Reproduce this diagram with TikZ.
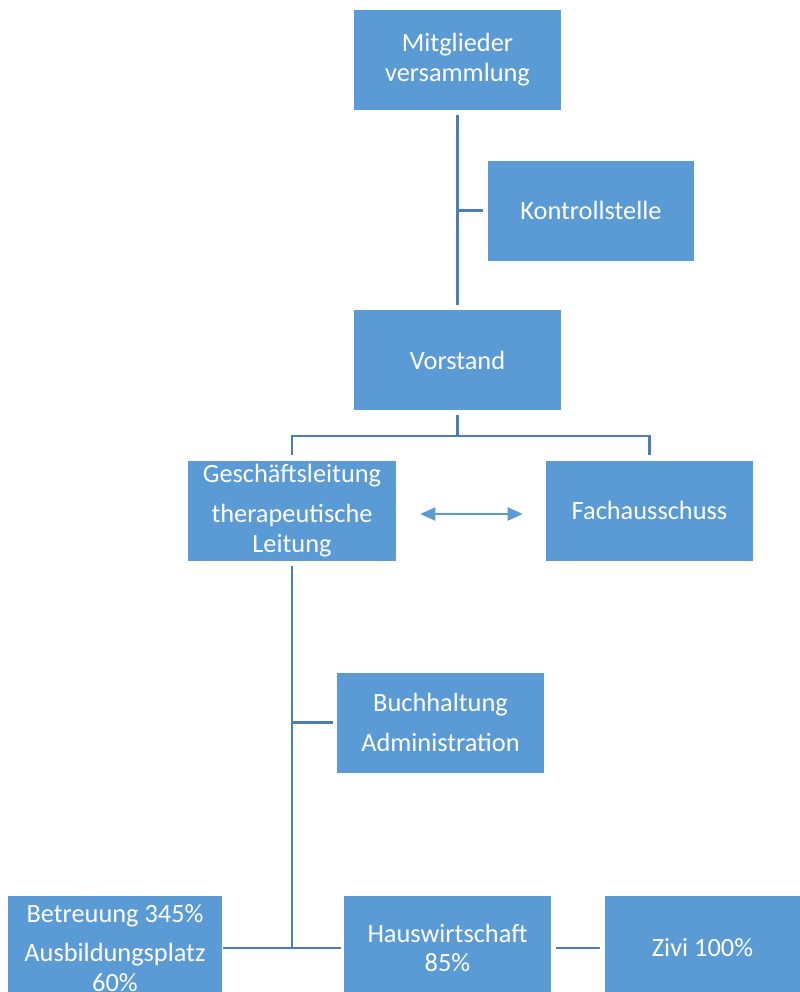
\documentclass[tikz,border=0pt]{standalone}
\usepackage{fontspec}
\setmainfont{Carlito}
\usetikzlibrary{arrows.meta}
\definecolor{boxblue}{HTML}{5B9BD5}
\definecolor{lineblue}{HTML}{4A7EBB}
\begin{document}
\begin{tikzpicture}[x=0.02cm, y=-0.02cm,
		box/.style={rectangle, fill=boxblue, text=white, align=center, inner sep=0pt,
			minimum width=4.14cm, minimum height=2cm, font=\fontsize{15}{17}\selectfont},
		conn/.style={lineblue, line width=1.6pt},
		dblarrow/.style={boxblue, line width=1.2pt, {Triangle[length=0.3cm,width=0.26cm]}-{Triangle[length=0.3cm,width=0.26cm]}}]
		\useasboundingbox (0,0) rectangle (800,992);
		\clip (0,0) rectangle (800,992);
		
		% Boxes
		\node[box] (mitglieder) at (457.5,60) {Mitglieder\\versammlung};
		\node[box, minimum width=4.12cm] (kontroll) at (591,210.5) {Kontrollstelle};
		\node[box] (vorstand) at (457.5,360) {Vorstand};
		\node[box, minimum width=4.16cm] (gl) at (292,510.5) {Geschäftsleitung\\[5.7pt]therapeutische\\Leitung};
		\node[box] (fach) at (649.5,510.5) {Fachausschuss};
		\node[box] (buch) at (440.5,722.5) {Buchhaltung\\[5.7pt]Administration};
		\node[box, minimum width=4.28cm, minimum height=2.08cm] (betreuung) at (115,948) {Betreuung 345\%\\[5.7pt]Ausbildungsplatz\\60\%};
		\node[box, minimum height=2.08cm] (haus) at (447.5,948) {Hauswirtschaft\\85\%};
		\node[box, minimum height=2.08cm] (zivi) at (708.5,948) {\hspace*{-0.24cm}Zivi 100\%};
		
		% Upper connectors
		\draw[conn, shorten <=0.1cm, shorten >=0.1cm] (mitglieder) -- (vorstand);
		\draw[conn, shorten <=0.1cm] (kontroll.west) -- (kontroll.west -| mitglieder.south);
		\coordinate (split) at (457.5,436);
		\draw[conn, shorten <=0.1cm] (vorstand.south) -- (split);
		\draw[conn, shorten <=0.1cm, shorten >=0.1cm] (gl.north) |- (split) -| (fach.north);
		\draw[dblarrow, shorten <=0.48cm, shorten >=0.46cm] ([yshift=-0.07cm]gl.east) -- ([yshift=-0.07cm]fach.west);
		
		% Lower connectors
		\coordinate (knot) at (gl.south |- haus.west);
		\draw[conn, shorten <=0.1cm] (gl.south) -- (knot);
		\draw[conn, shorten <=0.08cm] (buch.west) -- (buch.west -| gl.south);
		\draw[conn, shorten <=0.02cm, shorten >=0.06cm] (betreuung.east) -- (haus.west);
		\draw[conn, shorten <=0.1cm, shorten >=0.1cm] (haus.east) -- (zivi.west);
	\end{tikzpicture}
\end{document}
